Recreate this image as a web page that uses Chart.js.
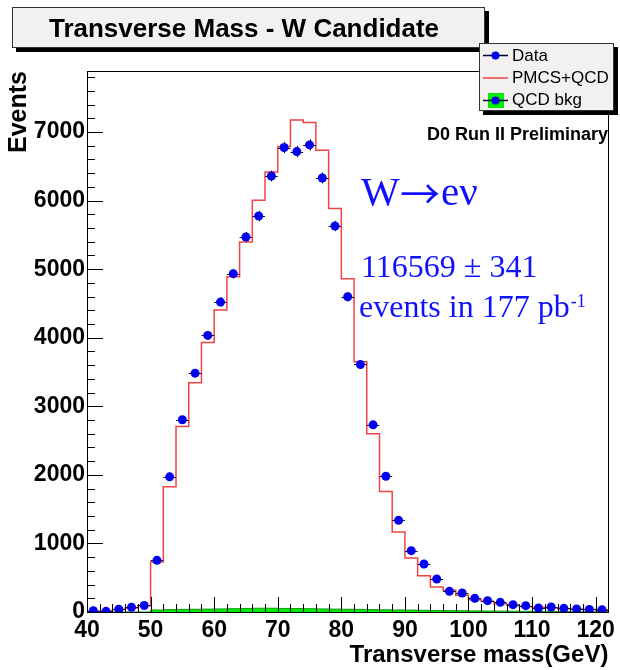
<!DOCTYPE html>
<html>
<head>
<meta charset="utf-8">
<script src="https://cdn.jsdelivr.net/npm/chart.js@4.4.1/dist/chart.umd.min.js"></script>
<style>
  html, body { margin: 0; padding: 0; background: #fff; }
</style>
</head>
<body>
<canvas id="c" width="620" height="670"></canvas>
<script>
// bins of 2 GeV, 40 -> 122
const binHalfWidth = 1;
const binCenters = [41, 43, 45, 47, 49, 51, 53, 55, 57, 59, 61, 63, 65, 67, 69, 71, 73, 75, 77, 79,
  81, 83, 85, 87, 89, 91, 93, 95, 97, 99, 101, 103, 105, 107, 109, 111, 113, 115, 117, 119, 121];
const dataEvents = [20, 10, 40, 70, 95, 753, 1971, 2803, 3483, 4034, 4520, 4934, 5469, 5775, 6359,
  6774, 6715, 6812, 6330, 5629, 4598, 3610, 2730, 1980, 1337, 895, 700, 482, 301, 277, 199, 165,
  141, 107, 92, 58, 73, 53, 44, 38, 34];
const modelEvents = [10, 15, 35, 60, 90, 730, 1825, 2705, 3343, 3930, 4403, 4890, 5396, 6004, 6418,
  6788, 7177, 7139, 6734, 5883, 4861, 3650, 2598, 1756, 1168, 788, 530, 365, 316, 243, 180, 155,
  121, 102, 82, 68, 58, 48, 44, 38, 34];
const qcdEvents = [0, 0, 0, 0, 0, 30, 35, 38, 40, 42, 45, 48, 52, 55, 55, 52, 50, 48, 45, 42, 40,
  38, 35, 32, 30, 28, 25, 22, 20, 18, 16, 14, 12, 11, 10, 9, 8, 7, 6, 5, 5];
const xTicks = [40, 50, 60, 70, 80, 90, 100, 110, 120];
const yTicks = [0, 1000, 2000, 3000, 4000, 5000, 6000, 7000];

const sans = "'Liberation Sans', Arial, Helvetica, sans-serif";
const serif = "'Liberation Serif', 'Times New Roman', 'DejaVu Serif', serif";

// histogram as step line: one point per lower bin edge plus the last upper edge
function stepPoints(values) {
  const pts = values.map((v, i) => ({ x: binCenters[i] - binHalfWidth, y: v }));
  pts.push({ x: binCenters[binCenters.length - 1] + binHalfWidth, y: values[values.length - 1] });
  return pts;
}

function boxWithShadow(ctx, x, y, w, h) {
  ctx.fillStyle = '#000';
  ctx.fillRect(x + 4, y + 4, w, h);
  ctx.fillStyle = '#f3f0f0';
  ctx.fillRect(x, y, w, h);
  ctx.strokeStyle = '#333';
  ctx.lineWidth = 1;
  ctx.strokeRect(x + 0.5, y + 0.5, w - 1, h - 1);
}

const rootStyle = {
  id: 'rootStyle',
  beforeDatasetDraw(chart, args) {
    if (args.index !== 0) return;
    // error bars under the data markers
    const { ctx, scales: { x, y } } = chart;
    ctx.save();
    ctx.strokeStyle = '#111';
    ctx.lineWidth = 1;
    binCenters.forEach((c, i) => {
      const v = dataEvents[i];
      const e = Math.sqrt(v);
      const px = Math.round(x.getPixelForValue(c)) + 0.5;
      const py = Math.round(y.getPixelForValue(v)) + 0.5;
      ctx.beginPath();
      ctx.moveTo(x.getPixelForValue(c - binHalfWidth), py);
      ctx.lineTo(x.getPixelForValue(c + binHalfWidth), py);
      ctx.moveTo(px, y.getPixelForValue(v - e));
      ctx.lineTo(px, y.getPixelForValue(v + e));
      ctx.stroke();
    });
    ctx.restore();
  },
  afterDatasetsDraw(chart) {
    const { ctx, chartArea: a, scales: { x, y } } = chart;
    ctx.save();
    ctx.strokeStyle = '#000';
    ctx.lineWidth = 1;
    ctx.beginPath();
    // x ticks inside the frame
    for (let v = 40; v <= 122; v += 2) {
      const px = Math.round(x.getPixelForValue(v)) + 0.5;
      const len = v % 10 === 0 ? 15 : 8;
      ctx.moveTo(px, a.bottom);
      ctx.lineTo(px, a.bottom - len);
    }
    // y ticks inside the frame
    for (let v = 0; v <= 7800; v += 200) {
      const py = Math.round(y.getPixelForValue(v)) + 0.5;
      const len = v % 1000 === 0 ? 16 : 8;
      ctx.moveTo(a.left, py);
      ctx.lineTo(a.left + len, py);
    }
    ctx.stroke();
    ctx.strokeRect(Math.round(a.left) + 0.5, Math.round(a.top) + 0.5,
      Math.round(a.right - a.left), Math.round(a.bottom - a.top));
    ctx.restore();
  },
  afterDraw(chart) {
    const ctx = chart.ctx;
    ctx.save();
    // title box
    boxWithShadow(ctx, 12, 7, 473, 41);
    ctx.fillStyle = '#000';
    ctx.font = 'bold 26px ' + sans;
    ctx.textAlign = 'center';
    ctx.textBaseline = 'alphabetic';
    ctx.fillText('Transverse Mass - W Candidate', 244, 37);

    // legend box
    boxWithShadow(ctx, 479, 43, 135, 68);
    ctx.font = '17px ' + sans;
    ctx.textAlign = 'left';
    ctx.textBaseline = 'middle';
    ctx.fillStyle = '#000';
    ctx.fillText('Data', 512, 56);
    ctx.fillText('PMCS+QCD', 512, 78);
    ctx.fillText('QCD bkg', 512, 100);
    ctx.fillStyle = '#00ee00';
    ctx.fillRect(488, 93, 16, 15);
    ctx.strokeStyle = '#000033';
    ctx.lineWidth = 1.5;
    [55.5, 100.5].forEach(ly => {
      ctx.beginPath(); ctx.moveTo(483, ly); ctx.lineTo(508, ly); ctx.stroke();
      ctx.fillStyle = '#0000ee';
      ctx.beginPath(); ctx.arc(495.5, ly, 4, 0, Math.PI * 2); ctx.fill();
    });
    ctx.strokeStyle = '#ee4444';
    ctx.beginPath(); ctx.moveTo(483, 78); ctx.lineTo(508, 78); ctx.stroke();

    // labels in the plot
    ctx.textBaseline = 'alphabetic';
    ctx.fillStyle = '#000';
    ctx.font = 'bold 18px ' + sans;
    ctx.textAlign = 'right';
    ctx.fillText('D0 Run II Preliminary', 608, 140);

    ctx.textAlign = 'left';
    ctx.fillStyle = '#1010ff';
    ctx.font = '41px ' + serif;
    ctx.fillText('W', 361, 205);
    ctx.fillText('e\u03bd', 441, 205);
    ctx.font = "40px 'Noto Sans CJK SC', 'DejaVu Serif', serif";
    ctx.fillText('\u2192', 400, 209);
    ctx.font = '32px ' + serif;
    ctx.fillText('116569 \u00b1 341', 361, 277);
    const line = 'events in 177 pb';
    ctx.fillText(line, 359, 317);
    const w = ctx.measureText(line).width;
    ctx.font = '18px ' + serif;
    ctx.fillText('-1', 359 + w + 1, 307);
    ctx.restore();
  }
};

new Chart(document.getElementById('c'), {
  data: {
    datasets: [
      {
        type: 'scatter',
        label: 'Data',
        data: binCenters.map((c, i) => ({ x: c, y: dataEvents[i] })),
        pointRadius: 4.5,
        pointBackgroundColor: '#0000ee',
        pointBorderWidth: 0,
        showLine: false
      },
      {
        type: 'line',
        label: 'PMCS+QCD',
        data: stepPoints(modelEvents),
        stepped: true,
        borderColor: '#ee4444',
        borderWidth: 1.5,
        pointRadius: 0,
        fill: false
      },
      {
        type: 'line',
        label: 'QCD bkg',
        data: stepPoints(qcdEvents),
        stepped: true,
        borderColor: '#119911',
        borderWidth: 1,
        backgroundColor: '#00ee00',
        pointRadius: 0,
        fill: 'origin'
      }
    ]
  },
  options: {
    responsive: false,
    animation: false,
    events: [],
    layout: { padding: { top: 71, right: 6, left: 0, bottom: 0 } },
    plugins: { legend: { display: false }, tooltip: { enabled: false } },
    scales: {
      x: {
        type: 'linear',
        min: 40,
        max: 122,
        grid: { display: false, drawTicks: false },
        border: { display: false },
        afterBuildTicks: s => { s.ticks = xTicks.map(v => ({ value: v })); },
        ticks: {
          padding: 5, maxRotation: 0, autoSkip: false, color: '#000',
          font: { family: sans, weight: 'bold', size: 23 },
          callback: v => String(v)
        },
        title: {
          display: true, text: 'Transverse mass(GeV)', align: 'end', color: '#000',
          font: { family: sans, weight: 'bold', size: 24 }, padding: { top: 0, bottom: 0 }
        },
        afterFit: s => { s.height = 58; }
      },
      y: {
        type: 'linear',
        min: 0,
        max: 7890,
        grid: { display: false, drawTicks: false },
        border: { display: false },
        afterBuildTicks: s => { s.ticks = yTicks.map(v => ({ value: v })); },
        ticks: {
          padding: 2, color: '#000',
          font: { family: sans, weight: 'bold', size: 23 },
          callback: v => String(v)
        },
        title: {
          display: true, text: 'Events', align: 'end', color: '#000',
          font: { family: sans, weight: 'bold', size: 25 }, padding: { top: 4, bottom: 0 }
        },
        afterFit: s => { s.width = 87; }
      }
    }
  },
  plugins: [rootStyle]
});
</script>
</body>
</html>
